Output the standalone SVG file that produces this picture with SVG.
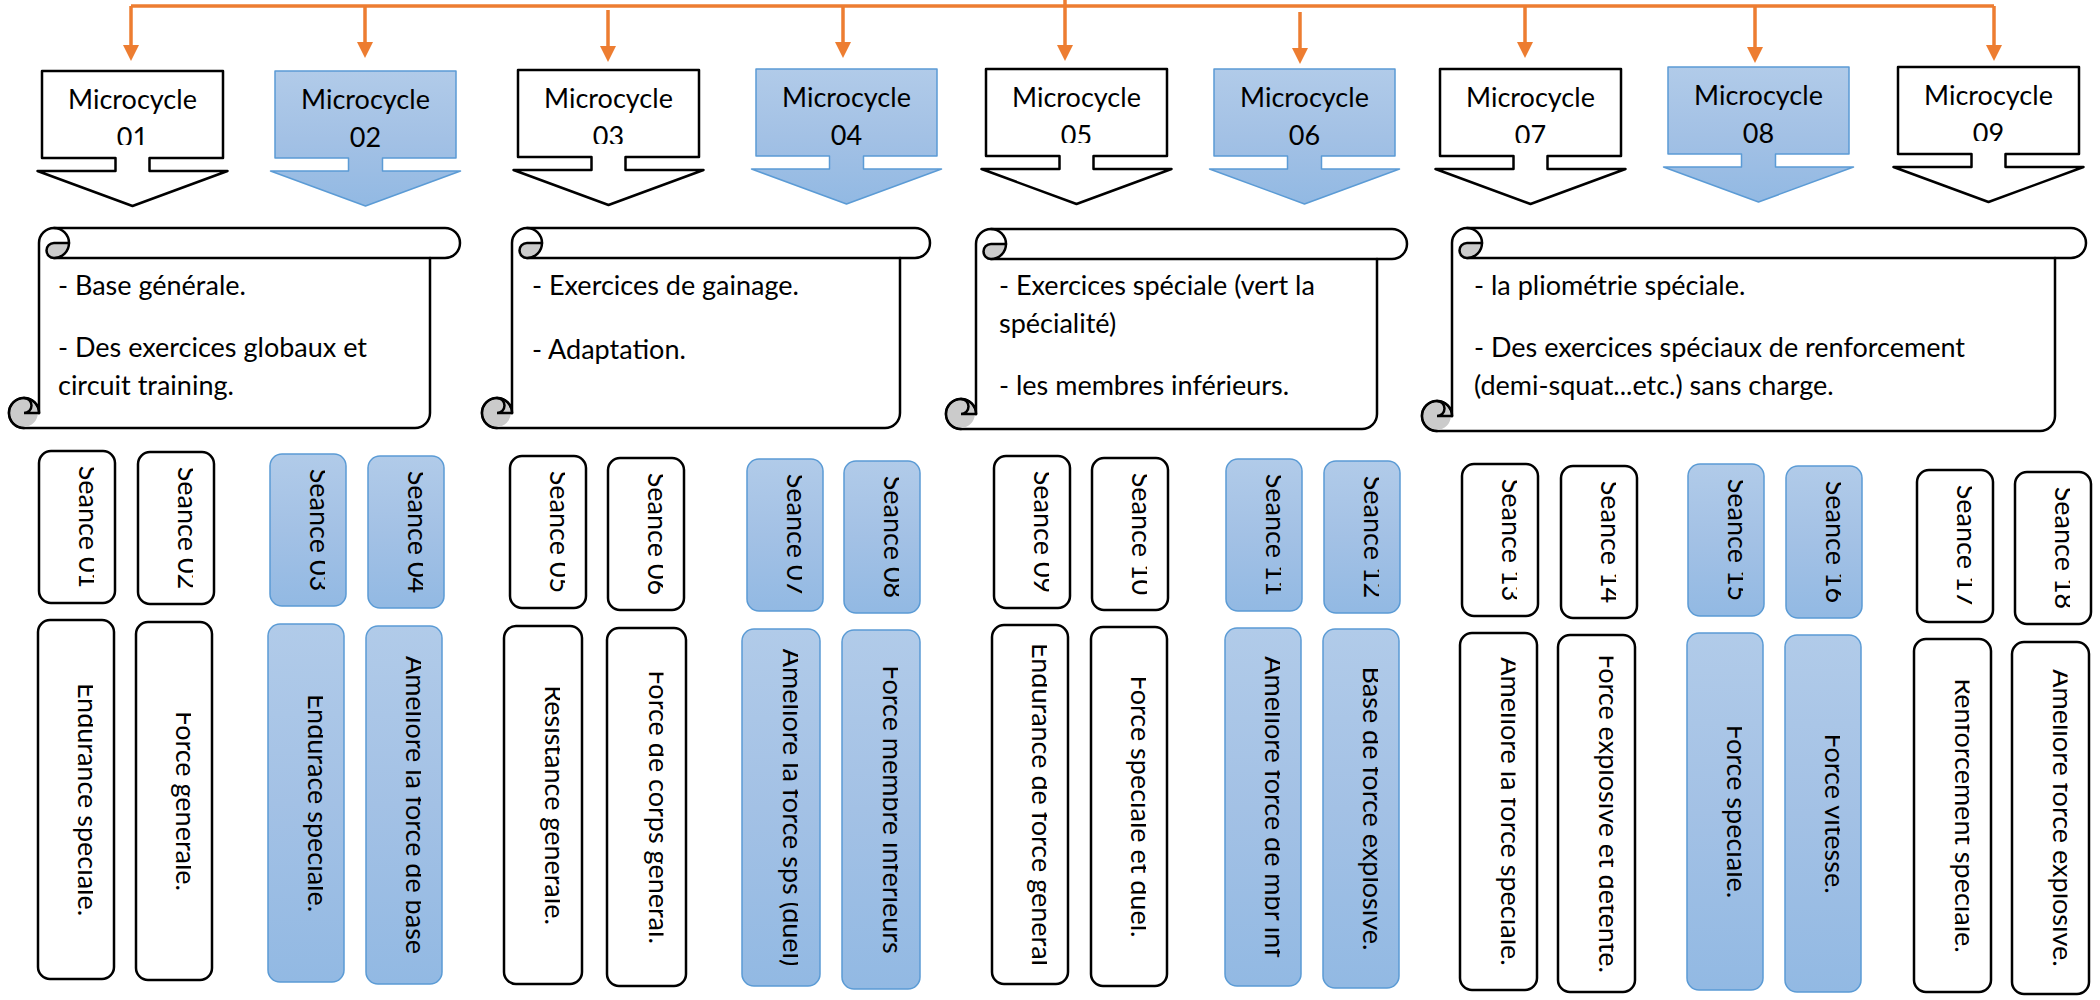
<svg xmlns="http://www.w3.org/2000/svg" width="2100" height="1000" viewBox="0 0 2100 1000">
<style>
.t{font-family:Lato,"Liberation Sans",sans-serif;font-size:27px;fill:#000}
.m{text-anchor:middle}
.wb{fill:#fff;stroke:#000;stroke-width:2.5;stroke-linejoin:round}
.bb{fill:url(#bg);stroke:#5B9BD5;stroke-width:1.5;stroke-linejoin:round}
.or{stroke:#ED7D31;stroke-width:3.5;fill:none}
.sc{fill:#fff;stroke:#000;stroke-width:2.5;stroke-linejoin:round}
.ln{fill:none;stroke:#000;stroke-width:2.5;stroke-linecap:round}
.gr{fill:#CBCBCB;stroke:#000;stroke-width:2.5;stroke-linejoin:round}
.gf{fill:#CBCBCB}
</style>
<defs>
<linearGradient id="bg" x1="0" y1="0" x2="0" y2="1">
<stop offset="0" stop-color="#B1CBE9"/>
<stop offset="0.5" stop-color="#A3C1E5"/>
<stop offset="1" stop-color="#92B9E3"/>
</linearGradient>
<marker id="ah" viewBox="0 0 16 16" refX="2" refY="8" markerWidth="16" markerHeight="16" markerUnits="userSpaceOnUse" orient="auto">
<path d="M0,0 L16,8 L0,16 Z" fill="#ED7D31"/>
</marker>
<clipPath id="ct" clipPathUnits="userSpaceOnUse"><rect x="-300" y="-15" width="600" height="41"/></clipPath>
<clipPath id="cn" clipPathUnits="userSpaceOnUse"><rect x="-100" y="40" width="200" height="34"/></clipPath>
</defs>

<g id="connectors">
<path class="or" d="M131,6 H1994"/>
<path class="or" d="M131,6 V47" marker-end="url(#ah)"/>
<path class="or" d="M365,6 V44" marker-end="url(#ah)"/>
<path class="or" d="M608,10 V48" marker-end="url(#ah)"/>
<path class="or" d="M843,6 V44" marker-end="url(#ah)"/>
<path class="or" d="M1065,0 V47" marker-end="url(#ah)"/>
<path class="or" d="M1300,12 V50" marker-end="url(#ah)"/>
<path class="or" d="M1525,6 V44" marker-end="url(#ah)"/>
<path class="or" d="M1755,6 V49" marker-end="url(#ah)"/>
<path class="or" d="M1994,6 V47" marker-end="url(#ah)"/>
</g>

<g id="mc01"><path class="wb" d="M42,71 h181 v87 H149.5 v13 H227.5 L132.5,206 L37.5,171 H115.5 v-13 H42 Z"/><g transform="translate(132.5,71)"><text class="t m" y="38">Microcycle</text><text class="t m" y="76" clip-path="url(#cn)">01</text></g></g>
<g id="mc02"><path class="bb" d="M275,71 h181 v87 H382.5 v13 H460.5 L365.5,206 L270.5,171 H348.5 v-13 H275 Z"/><g transform="translate(365.5,71)"><text class="t m" y="38">Microcycle</text><text class="t m" y="76">02</text></g></g>
<g id="mc03"><path class="wb" d="M518,70 h181 v87 H625.5 v13 H703.5 L608.5,205 L513.5,170 H591.5 v-13 H518 Z"/><g transform="translate(608.5,70)"><text class="t m" y="38">Microcycle</text><text class="t m" y="76" clip-path="url(#cn)">03</text></g></g>
<g id="mc04"><path class="bb" d="M756,69 h181 v87 H863.5 v13 H941.5 L846.5,204 L751.5,169 H829.5 v-13 H756 Z"/><g transform="translate(846.5,69)"><text class="t m" y="38">Microcycle</text><text class="t m" y="76">04</text></g></g>
<g id="mc05"><path class="wb" d="M986,69 h181 v87 H1093.5 v13 H1171.5 L1076.5,204 L981.5,169 H1059.5 v-13 H986 Z"/><g transform="translate(1076.5,69)"><text class="t m" y="38">Microcycle</text><text class="t m" y="76" clip-path="url(#cn)">05</text></g></g>
<g id="mc06"><path class="bb" d="M1214,69 h181 v87 H1321.5 v13 H1399.5 L1304.5,204 L1209.5,169 H1287.5 v-13 H1214 Z"/><g transform="translate(1304.5,69)"><text class="t m" y="38">Microcycle</text><text class="t m" y="76">06</text></g></g>
<g id="mc07"><path class="wb" d="M1440,69 h181 v87 H1547.5 v13 H1625.5 L1530.5,204 L1435.5,169 H1513.5 v-13 H1440 Z"/><g transform="translate(1530.5,69)"><text class="t m" y="38">Microcycle</text><text class="t m" y="76" clip-path="url(#cn)">07</text></g></g>
<g id="mc08"><path class="bb" d="M1668,67 h181 v87 H1775.5 v13 H1853.5 L1758.5,202 L1663.5,167 H1741.5 v-13 H1668 Z"/><g transform="translate(1758.5,67)"><text class="t m" y="38">Microcycle</text><text class="t m" y="76">08</text></g></g>
<g id="mc09"><path class="wb" d="M1898,67 h181 v87 H2005.5 v13 H2083.5 L1988.5,202 L1893.5,167 H1971.5 v-13 H1898 Z"/><g transform="translate(1988.5,67)"><text class="t m" y="38">Microcycle</text><text class="t m" y="76" clip-path="url(#cn)">09</text></g></g>

<g id="scroll1">
<path class="sc" d="M39,243 A15,15 0 0 1 54,228 H445 A15,15 0 0 1 445,258 H430 V413 A15,15 0 0 1 415,428 H24 A15,15 0 0 1 24,398 A15,15 0 0 1 39,413 Z"/>
<path class="ln" d="M54,258 H430"/>
<path class="gr" d="M69,243 A15,15 0 0 1 54,258 A7.5,7.5 0 0 1 54,243 Z"/>
<path class="ln" d="M54,228 A15,15 0 0 1 69,243"/>
<circle class="gf" cx="24" cy="413" r="13.8"/>
<path class="ln" d="M24,428 A15,15 0 0 1 24,398 A15,15 0 0 1 39,413"/>
<path class="ln" d="M24,398 A7.5,7.5 0 0 1 24,413 H39"/>
<text class="t" x="58" y="295">- Base générale.</text>
<text class="t" x="58" y="357">- Des exercices globaux et</text>
<text class="t" x="58" y="395">circuit training.</text>
</g>

<g id="scroll2">
<path class="sc" d="M512,243 A15,15 0 0 1 527,228 H915 A15,15 0 0 1 915,258 H900 V413 A15,15 0 0 1 885,428 H497 A15,15 0 0 1 497,398 A15,15 0 0 1 512,413 Z"/>
<path class="ln" d="M527,258 H900"/>
<path class="gr" d="M542,243 A15,15 0 0 1 527,258 A7.5,7.5 0 0 1 527,243 Z"/>
<path class="ln" d="M527,228 A15,15 0 0 1 542,243"/>
<circle class="gf" cx="497" cy="413" r="13.8"/>
<path class="ln" d="M497,428 A15,15 0 0 1 497,398 A15,15 0 0 1 512,413"/>
<path class="ln" d="M497,398 A7.5,7.5 0 0 1 497,413 H512"/>
<text class="t" x="532" y="295">- Exercices de gainage.</text>
<text class="t" x="532" y="359">- Adaptation.</text>
</g>

<g id="scroll3">
<path class="sc" d="M976,244 A15,15 0 0 1 991,229 H1392 A15,15 0 0 1 1392,259 H1377 V414 A15,15 0 0 1 1362,429 H961 A15,15 0 0 1 961,399 A15,15 0 0 1 976,414 Z"/>
<path class="ln" d="M991,259 H1377"/>
<path class="gr" d="M1006,244 A15,15 0 0 1 991,259 A7.5,7.5 0 0 1 991,244 Z"/>
<path class="ln" d="M991,229 A15,15 0 0 1 1006,244"/>
<circle class="gf" cx="961" cy="414" r="13.8"/>
<path class="ln" d="M961,429 A15,15 0 0 1 961,399 A15,15 0 0 1 976,414"/>
<path class="ln" d="M961,399 A7.5,7.5 0 0 1 961,414 H976"/>
<text class="t" x="999" y="295">- Exercices spéciale (vert la</text>
<text class="t" x="999" y="333">spécialité)</text>
<text class="t" x="999" y="395">- les membres inférieurs.</text>
</g>

<g id="scroll4">
<path class="sc" d="M1452,243 A15,15 0 0 1 1467,228 H2071 A15,15 0 0 1 2071,258 H2055 V416 A15,15 0 0 1 2040,431 H1437 A15,15 0 0 1 1437,401 A15,15 0 0 1 1452,416 Z"/>
<path class="ln" d="M1467,258 H2055"/>
<path class="gr" d="M1482,243 A15,15 0 0 1 1467,258 A7.5,7.5 0 0 1 1467,243 Z"/>
<path class="ln" d="M1467,228 A15,15 0 0 1 1482,243"/>
<circle class="gf" cx="1437" cy="416" r="13.8"/>
<path class="ln" d="M1437,431 A15,15 0 0 1 1437,401 A15,15 0 0 1 1452,416"/>
<path class="ln" d="M1437,401 A7.5,7.5 0 0 1 1437,416 H1452"/>
<text class="t" x="1474" y="295">- la pliométrie spéciale.</text>
<text class="t" x="1474" y="357">- Des exercices spéciaux de renforcement</text>
<text class="t" x="1474" y="395">(demi-squat...etc.) sans charge.</text>
</g>

<g id="s01"><rect class="wb" x="39" y="451" width="76" height="152" rx="12"/><g transform="translate(79,527) rotate(90)"><text class="t m" clip-path="url(#ct)">Séance 01</text></g></g>
<g id="s02"><rect class="wb" x="138" y="452" width="76" height="152" rx="12"/><g transform="translate(178,528) rotate(90)"><text class="t m" clip-path="url(#ct)">Séance 02</text></g></g>
<g id="s03"><rect class="bb" x="270" y="454" width="76" height="152" rx="12"/><g transform="translate(310,530) rotate(90)"><text class="t m" clip-path="url(#ct)">Séance 03</text></g></g>
<g id="s04"><rect class="bb" x="368" y="456" width="76" height="152" rx="12"/><g transform="translate(408,532) rotate(90)"><text class="t m" clip-path="url(#ct)">Séance 04</text></g></g>
<g id="s05"><rect class="wb" x="510" y="456" width="76" height="152" rx="12"/><g transform="translate(550,532) rotate(90)"><text class="t m" clip-path="url(#ct)">Séance 05</text></g></g>
<g id="s06"><rect class="wb" x="608" y="458" width="76" height="152" rx="12"/><g transform="translate(648,534) rotate(90)"><text class="t m" clip-path="url(#ct)">Séance 06</text></g></g>
<g id="s07"><rect class="bb" x="747" y="459" width="76" height="152" rx="12"/><g transform="translate(787,535) rotate(90)"><text class="t m" clip-path="url(#ct)">Séance 07</text></g></g>
<g id="s08"><rect class="bb" x="844" y="461" width="76" height="152" rx="12"/><g transform="translate(884,537) rotate(90)"><text class="t m" clip-path="url(#ct)">Séance 08</text></g></g>
<g id="s09"><rect class="wb" x="994" y="456" width="76" height="152" rx="12"/><g transform="translate(1034,532) rotate(90)"><text class="t m" clip-path="url(#ct)">Séance 09</text></g></g>
<g id="s10"><rect class="wb" x="1092" y="458" width="76" height="152" rx="12"/><g transform="translate(1132,534) rotate(90)"><text class="t m" clip-path="url(#ct)">Séance 10</text></g></g>
<g id="s11"><rect class="bb" x="1226" y="459" width="76" height="152" rx="12"/><g transform="translate(1266,535) rotate(90)"><text class="t m" clip-path="url(#ct)">Séance 11</text></g></g>
<g id="s12"><rect class="bb" x="1324" y="461" width="76" height="152" rx="12"/><g transform="translate(1364,537) rotate(90)"><text class="t m" clip-path="url(#ct)">Séance 12</text></g></g>
<g id="s13"><rect class="wb" x="1462" y="464" width="76" height="152" rx="12"/><g transform="translate(1502,540) rotate(90)"><text class="t m" clip-path="url(#ct)">Séance 13</text></g></g>
<g id="s14"><rect class="wb" x="1561" y="466" width="76" height="152" rx="12"/><g transform="translate(1601,542) rotate(90)"><text class="t m" clip-path="url(#ct)">Séance 14</text></g></g>
<g id="s15"><rect class="bb" x="1688" y="464" width="76" height="152" rx="12"/><g transform="translate(1728,540) rotate(90)"><text class="t m" clip-path="url(#ct)">Séance 15</text></g></g>
<g id="s16"><rect class="bb" x="1786" y="466" width="76" height="152" rx="12"/><g transform="translate(1826,542) rotate(90)"><text class="t m" clip-path="url(#ct)">Séance 16</text></g></g>
<g id="s17"><rect class="wb" x="1917" y="470" width="76" height="152" rx="12"/><g transform="translate(1957,546) rotate(90)"><text class="t m" clip-path="url(#ct)">Séance 17</text></g></g>
<g id="s18"><rect class="wb" x="2015" y="472" width="76" height="152" rx="12"/><g transform="translate(2055,548) rotate(90)"><text class="t m" clip-path="url(#ct)">Séance 18</text></g></g>

<g id="b01"><rect class="wb" x="38" y="620" width="76" height="359" rx="12"/><g transform="translate(78,799.5) rotate(90)"><text class="t m" clip-path="url(#ct)">Endurance spéciale.</text></g></g>
<g id="b02"><rect class="wb" x="136" y="622" width="76" height="358" rx="12"/><g transform="translate(176,801) rotate(90)"><text class="t m" clip-path="url(#ct)">Force générale.</text></g></g>
<g id="b03"><rect class="bb" x="268" y="624" width="76" height="358" rx="12"/><g transform="translate(308,803) rotate(90)"><text class="t m" clip-path="url(#ct)">Endurace spéciale.</text></g></g>
<g id="b04"><rect class="bb" x="366" y="626" width="76" height="358" rx="12"/><g transform="translate(406,805) rotate(90)"><text class="t m" clip-path="url(#ct)">Amélioré la force de base</text></g></g>
<g id="b05"><rect class="wb" x="504" y="626" width="78" height="358" rx="12"/><g transform="translate(545,805) rotate(90)"><text class="t m" clip-path="url(#ct)">Résistance générale.</text></g></g>
<g id="b06"><rect class="wb" x="607" y="628" width="79" height="358" rx="12"/><g transform="translate(648.5,807) rotate(90)"><text class="t m" clip-path="url(#ct)">Force de corps général.</text></g></g>
<g id="b07"><rect class="bb" x="742" y="629" width="78" height="357" rx="12"/><g transform="translate(783,807.5) rotate(90)"><text class="t m" clip-path="url(#ct)">Amélioré la force sps (duel)</text></g></g>
<g id="b08"><rect class="bb" x="842" y="630" width="78" height="359" rx="12"/><g transform="translate(883,809.5) rotate(90)"><text class="t m" clip-path="url(#ct)">Force membre inférieurs</text></g></g>
<g id="b09"><rect class="wb" x="992" y="625" width="76" height="359" rx="12"/><g transform="translate(1032,804.5) rotate(90)"><text class="t m" clip-path="url(#ct)">Endurance de force général</text></g></g>
<g id="b10"><rect class="wb" x="1091" y="627" width="76" height="359" rx="12"/><g transform="translate(1131,806.5) rotate(90)"><text class="t m" clip-path="url(#ct)">Force spéciale et duel.</text></g></g>
<g id="b11"><rect class="bb" x="1225" y="628" width="76" height="358" rx="12"/><g transform="translate(1265,807) rotate(90)"><text class="t m" clip-path="url(#ct)">Amélioré force de mbr inf</text></g></g>
<g id="b12"><rect class="bb" x="1323" y="629" width="76" height="359" rx="12"/><g transform="translate(1363,808.5) rotate(90)"><text class="t m" clip-path="url(#ct)">Base de force explosive.</text></g></g>
<g id="b13"><rect class="wb" x="1460" y="633" width="77" height="357" rx="12"/><g transform="translate(1500.5,811.5) rotate(90)"><text class="t m" clip-path="url(#ct)">Amélioré la force spéciale.</text></g></g>
<g id="b14"><rect class="wb" x="1558" y="635" width="77" height="357" rx="12"/><g transform="translate(1598.5,813.5) rotate(90)"><text class="t m" clip-path="url(#ct)">Force explosive et détente.</text></g></g>
<g id="b15"><rect class="bb" x="1687" y="633" width="76" height="357" rx="12"/><g transform="translate(1727,811.5) rotate(90)"><text class="t m" clip-path="url(#ct)">Force spéciale.</text></g></g>
<g id="b16"><rect class="bb" x="1785" y="635" width="76" height="357" rx="12"/><g transform="translate(1825,813.5) rotate(90)"><text class="t m" clip-path="url(#ct)">Force vitesse.</text></g></g>
<g id="b17"><rect class="wb" x="1914" y="639" width="77" height="353" rx="12"/><g transform="translate(1954.5,815.5) rotate(90)"><text class="t m" clip-path="url(#ct)">Renforcement spéciale.</text></g></g>
<g id="b18"><rect class="wb" x="2012" y="642" width="77" height="352" rx="12"/><g transform="translate(2052.5,818) rotate(90)"><text class="t m" clip-path="url(#ct)">Amélioré force explosive.</text></g></g>
</svg>
